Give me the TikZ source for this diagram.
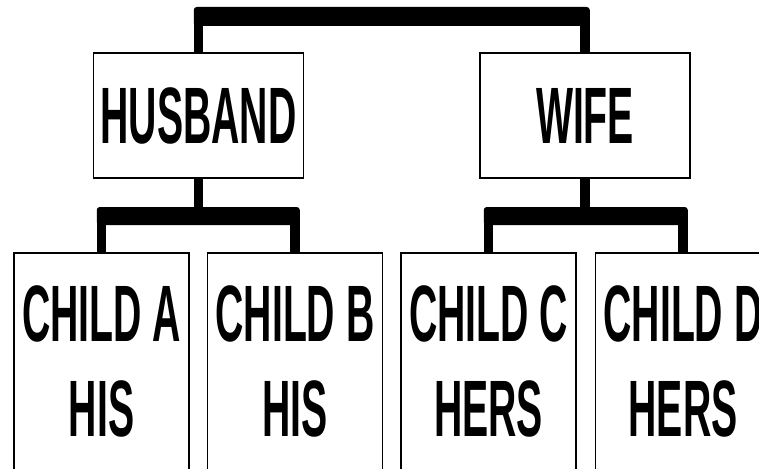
\documentclass[tikz,border=0pt]{standalone}
\usepackage{fontspec}
\newfontfamily\famfont{Liberation Sans}[FakeStretch=0.49]
\usetikzlibrary{positioning, calc}
\tikzset{
  famnode/.style={draw, line width=1.5pt, fill=white, inner sep=0pt, align=center, font=\famfont\bfseries\fontsize{80}{95}\selectfont},
  parentnode/.style={famnode, minimum width=210pt, minimum height=125pt},
  childnode/.style={famnode, minimum width=175pt, minimum height=232pt, execute at end node={\rule[-16pt]{0pt}{0pt}}},
  stem/.style={line width=9.5pt},
  bar/.style={fill=black, rounded corners=3pt},
}

\begin{document}
\begin{tikzpicture}[x=1pt, y=-1pt, node distance=17pt]
  \useasboundingbox (0,0) rectangle (759,468);
  % parents
  \node[parentnode] (hus) at (198.5,115.5) {HUSBAND};
  \node[parentnode] (wife) at (585,115.5) {WIFE};
  % children
  \node[childnode] (a) at (101.5,369) {CHILD A\\HIS};
  \node[childnode, right=of a] (b) {CHILD B\\HIS};
  \node[childnode, right=of b] (c) {CHILD C\\HERS};
  \node[childnode, right=18pt of c] (d) {CHILD D\\HERS};
  % bar levels
  \coordinate (top) at (0,16.5);
  \coordinate (mid) at (0,216);
  % couple
  \draw[stem] (hus.north) -- (hus.north |- top);
  \draw[stem] (wife.north) -- (wife.north |- top);
  \fill[bar] ($(hus.north |- top)+(-4.75,-9.5)$) rectangle ($(wife.north |- top)+(4.75,9.5)$);
  % families
  \foreach \p/\c in {hus/a, hus/b, wife/c, wife/d} {
    \draw[stem] (\p.south) -- (\p.south |- mid);
    \draw[stem] (\c.north) -- (\c.north |- mid);
  }
  \foreach \i/\j in {a/b, c/d}
    \fill[bar] ($(\i.north |- mid)+(-4.75,-9)$) rectangle ($(\j.north |- mid)+(4.75,9)$);
\end{tikzpicture}
\end{document}
